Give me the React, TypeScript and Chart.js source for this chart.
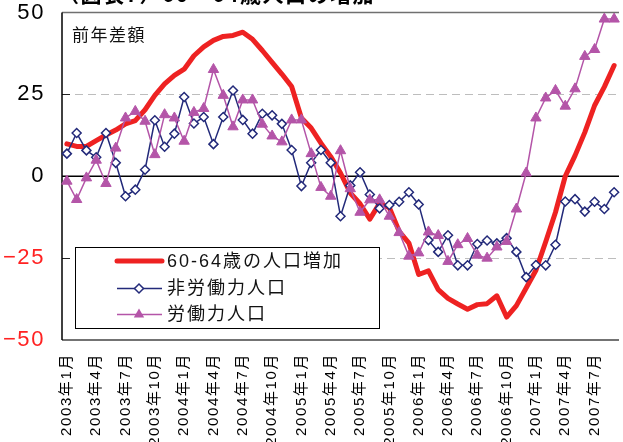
import { useEffect, useRef } from 'react';
import { Chart, registerables } from 'chart.js';

Chart.register(...registerables);

const categories = [
  '2003年1月', '2003年2月', '2003年3月', '2003年4月', '2003年5月', '2003年6月',
  '2003年7月', '2003年8月', '2003年9月', '2003年10月', '2003年11月', '2003年12月',
  '2004年1月', '2004年2月', '2004年3月', '2004年4月', '2004年5月', '2004年6月',
  '2004年7月', '2004年8月', '2004年9月', '2004年10月', '2004年11月', '2004年12月',
  '2005年1月', '2005年2月', '2005年3月', '2005年4月', '2005年5月', '2005年6月',
  '2005年7月', '2005年8月', '2005年9月', '2005年10月', '2005年11月', '2005年12月',
  '2006年1月', '2006年2月', '2006年3月', '2006年4月', '2006年5月', '2006年6月',
  '2006年7月', '2006年8月', '2006年9月', '2006年10月', '2006年11月', '2006年12月',
  '2007年1月', '2007年2月', '2007年3月', '2007年4月', '2007年5月', '2007年6月',
  '2007年7月', '2007年8月', '2007年9月',
];

const popIncrease6064 = [
  9.9, 9.1, 9.1, 10.9, 12.6, 14.1, 16.0, 17.0, 20.3, 24.7,
  28.2, 30.8, 32.7, 36.8, 39.5, 41.5, 42.7, 43.0, 44.0, 41.8,
  38.4, 34.8, 31.2, 27.4, 17.8, 14.7, 10.1, 6.0, 1.0, -5.1,
  -8.4, -13.1, -8.3, -9.6, -16.8, -20.4, -30.0, -28.9, -34.6, -37.3,
  -39.0, -40.6, -39.2, -38.9, -36.5, -43.0, -39.5, -34.1, -28.7, -20.0,
  -11.0, 0.0, 6.3, 13.4, 21.6, 27.3, 33.8,
];

const nonLaborForce = [
  6.9, 13.2, 7.9, 5.8, 13.2, 4.1, -6.1, -4.1, 2.0, 17.1,
  9.0, 13.0, 24.2, 16.1, 18.1, 9.8, 18.1, 26.2, 17.2, 13.0,
  19.1, 18.6, 16.0, 8.0, -3.0, 4.1, 8.0, 4.1, -12.2, -2.8,
  1.2, -5.6, -9.8, -8.8, -7.8, -4.9, -8.6, -19.5, -23.1, -18.0,
  -27.2, -27.2, -20.7, -19.6, -20.5, -18.9, -23.1, -30.8, -27.1, -27.2,
  -20.9, -7.7, -7.0, -10.8, -7.8, -10.0, -4.9,
];

const laborForce = [
  -1.5, -7.1, -0.5, 4.9, -2.2, 8.6, 17.8, 19.8, 16.8, 6.6,
  18.8, 17.8, 10.7, 19.5, 20.7, 32.6, 24.7, 15.1, 23.3, 23.3,
  15.9, 12.3, 10.5, 17.2, 17.2, 6.9, -3.4, -6.1, 7.8, -3.8,
  -11.0, -7.2, -7.2, -12.2, -17.2, -24.4, -23.4, -17.0, -18.1, -26.0,
  -20.9, -19.0, -24.1, -25.0, -21.6, -19.9, -10.0, 1.0, 17.8, 23.9,
  26.2, 21.4, 26.7, 36.6, 38.7, 48.0, 48.0,
];

const seriesNames = ['60-64歳の人口増加', '非労働力人口', '労働力人口'];
const yMin = -50;
const yMax = 50;
const yStep = 25;
const dashedGridValues = [25, -25];
const titleText = '（図表7）60～64歳人口の増加';
const unitText = '前年差額';

const RED = '#ee2222';
const NAVY = '#232a7a';
const MAGENTA = '#b455a8';
const CJK = '"Liberation Sans", "Noto Sans CJK JP", sans-serif';

const zeroPad = (s: any) => {
  s.paddingLeft = 0;
  s.paddingRight = 0;
  s.paddingTop = 0;
  s.paddingBottom = 0;
};

const decorPlugin = {
  id: 'decor',
  beforeDraw(chart: any) {
    (chart.ctx as any).letterSpacing = '1.6px';
  },
  beforeDatasetsDraw(chart: any) {
    const { ctx, chartArea: a, scales } = chart;
    (ctx as any).letterSpacing = '0px';
    const y = scales.y;
    ctx.save();
    ctx.strokeStyle = '#bdbdbd';
    ctx.lineWidth = 1;
    ctx.setLineDash([8, 5]);
    for (const v of dashedGridValues) {
      const py = Math.round(y.getPixelForValue(v)) + 0.5;
      ctx.beginPath();
      ctx.moveTo(a.left, py);
      ctx.lineTo(a.right, py);
      ctx.stroke();
    }
    ctx.setLineDash([]);
    ctx.strokeStyle = '#222';
    ctx.lineWidth = 1;
    for (const v of dashedGridValues) {
      const py = Math.round(y.getPixelForValue(v)) + 0.5;
      ctx.beginPath();
      ctx.moveTo(a.left, py);
      ctx.lineTo(a.left + 8, py);
      ctx.stroke();
    }
    const p0 = y.getPixelForValue(0);
    ctx.strokeStyle = '#000';
    ctx.lineWidth = 1.3;
    ctx.beginPath();
    ctx.moveTo(a.left, p0);
    ctx.lineTo(a.right, p0);
    ctx.stroke();
    ctx.strokeStyle = '#707070';
    ctx.lineWidth = 1.5;
    ctx.beginPath();
    ctx.moveTo(a.left, a.top);
    ctx.lineTo(a.right, a.top);
    ctx.stroke();
    ctx.strokeStyle = '#444';
    ctx.beginPath();
    ctx.moveTo(a.left, a.bottom);
    ctx.lineTo(a.right, a.bottom);
    ctx.stroke();
    ctx.strokeStyle = '#000';
    ctx.beginPath();
    ctx.moveTo(a.left, a.top);
    ctx.lineTo(a.left, a.bottom);
    ctx.stroke();
    ctx.restore();
  },
  afterDatasetsDraw(chart: any) {
    const { ctx, chartArea: a } = chart;
    ctx.save();
    ctx.fillStyle = '#111';
    ctx.font = '17px "Noto Sans CJK JP", sans-serif';
    (ctx as any).letterSpacing = '1.5px';
    ctx.textBaseline = 'middle';
    ctx.textAlign = 'left';
    ctx.fillText(unitText, a.left + 10, 35);

    const bx = 75.5, by = 247.5, bw = 304, bh = 81;
    ctx.fillStyle = '#fff';
    ctx.fillRect(bx, by, bw, bh);
    ctx.strokeStyle = '#000';
    ctx.lineWidth = 1;
    ctx.strokeRect(bx, by, bw, bh);

    const rows = [261, 288.5, 314.5];
    const lx0 = 117, lx1 = 162, mx = 139;
    ctx.strokeStyle = RED;
    ctx.lineWidth = 5;
    ctx.lineCap = 'round';
    ctx.beginPath();
    ctx.moveTo(lx0, rows[0]);
    ctx.lineTo(lx1, rows[0]);
    ctx.stroke();
    ctx.lineCap = 'butt';
    ctx.strokeStyle = NAVY;
    ctx.lineWidth = 1.5;
    ctx.beginPath();
    ctx.moveTo(lx0, rows[1]);
    ctx.lineTo(lx1, rows[1]);
    ctx.stroke();
    const r = 4.5;
    ctx.fillStyle = '#fff';
    ctx.beginPath();
    ctx.moveTo(mx, rows[1] - r);
    ctx.lineTo(mx + r, rows[1]);
    ctx.lineTo(mx, rows[1] + r);
    ctx.lineTo(mx - r, rows[1]);
    ctx.closePath();
    ctx.fill();
    ctx.stroke();
    ctx.strokeStyle = MAGENTA;
    ctx.lineWidth = 1.5;
    ctx.beginPath();
    ctx.moveTo(lx0, rows[2]);
    ctx.lineTo(lx1, rows[2]);
    ctx.stroke();
    const tr = 6;
    ctx.fillStyle = MAGENTA;
    ctx.beginPath();
    for (let k = 0; k < 3; k++) {
      const ang = (k * 2 * Math.PI) / 3;
      const px = mx + Math.sin(ang) * tr;
      const py = rows[2] - Math.cos(ang) * tr;
      if (k === 0) ctx.moveTo(px, py);
      else ctx.lineTo(px, py);
    }
    ctx.closePath();
    ctx.fill();

    ctx.fillStyle = '#111';
    ctx.font = '18px ' + CJK;
    (ctx as any).letterSpacing = '2px';
    ctx.textBaseline = 'middle';
    seriesNames.forEach((n, i) => ctx.fillText(n, 167, rows[i] + 1));
    ctx.restore();
  },
  afterDraw(chart: any) {
    const { ctx } = chart;
    ctx.save();
    ctx.fillStyle = '#000';
    ctx.font = 'bold 21px "Noto Sans CJK JP", sans-serif';
    (ctx as any).letterSpacing = '1.5px';
    ctx.textBaseline = 'alphabetic';
    ctx.textAlign = 'left';
    ctx.fillText(titleText, 58, 2);
    ctx.restore();
  },
};

export default function App() {
  const ref = useRef<HTMLCanvasElement | null>(null);
  useEffect(() => {
    if (!ref.current) return;
    const chart = new Chart(ref.current, {
      type: 'line',
      data: {
        labels: categories,
        datasets: [
          {
            label: seriesNames[0],
            data: popIncrease6064,
            borderColor: RED,
            backgroundColor: RED,
            borderWidth: 5,
            pointRadius: 0,
            borderJoinStyle: 'round',
            borderCapStyle: 'round',
            tension: 0,
            order: 3,
          },
          {
            label: seriesNames[1],
            data: nonLaborForce,
            borderColor: NAVY,
            backgroundColor: '#ffffff',
            borderWidth: 1.5,
            pointStyle: 'rectRot',
            pointRadius: 4.5,
            pointBorderWidth: 1.5,
            pointBorderColor: NAVY,
            pointBackgroundColor: '#ffffff',
            tension: 0,
            order: 2,
          },
          {
            label: seriesNames[2],
            data: laborForce,
            borderColor: MAGENTA,
            backgroundColor: MAGENTA,
            borderWidth: 1.5,
            pointStyle: 'triangle',
            pointRadius: 6,
            pointBorderWidth: 1,
            pointBorderColor: MAGENTA,
            pointBackgroundColor: MAGENTA,
            tension: 0,
            order: 1,
          },
        ],
      },
      options: {
        responsive: false,
        animation: false,
        devicePixelRatio: 1,
        layout: { padding: { top: 12.5, left: 0, right: 0, bottom: 0 } },
        plugins: {
          legend: { display: false },
          tooltip: { enabled: false },
        },
        scales: {
          x: {
            type: 'category',
            offset: true,
            grid: { display: false, drawTicks: false },
            border: { display: false },
            ticks: {
              autoSkip: false,
              maxRotation: 90,
              minRotation: 90,
              padding: 13,
              color: '#000',
              font: { size: 15, family: CJK },
              callback: (_v: any, i: number) => {
                const s = categories[i];
                return /年(1|4|7|10)月$/.test(s) ? s : '';
              },
            },
            afterFit: (s: any) => {
              s.height = 112;
              zeroPad(s);
            },
          },
          y: {
            min: yMin,
            max: yMax,
            grid: { display: false, drawTicks: false },
            border: { display: false },
            ticks: {
              stepSize: yStep,
              padding: 17,
              font: { size: 22, family: '"Liberation Sans", Arial, sans-serif' },
              color: (c: any) => (c.tick && c.tick.value < 0 ? '#ff2222' : '#000'),
              callback: (v: any) => (Number(v) < 0 ? '\u2212' + Math.abs(Number(v)) : String(v)),
            },
            afterFit: (s: any) => {
              s.width = 62;
              zeroPad(s);
            },
          },
        },
      },
      plugins: [decorPlugin],
    } as any);
    return () => chart.destroy();
  }, []);
  return (
    <div style={{ position: 'absolute', left: 0, top: 0, width: 623, height: 442, overflow: 'hidden', background: '#fff' }}>
      <canvas ref={ref} width={626} height={452} style={{ width: 626, height: 452, display: 'block' }} />
    </div>
  );
}
